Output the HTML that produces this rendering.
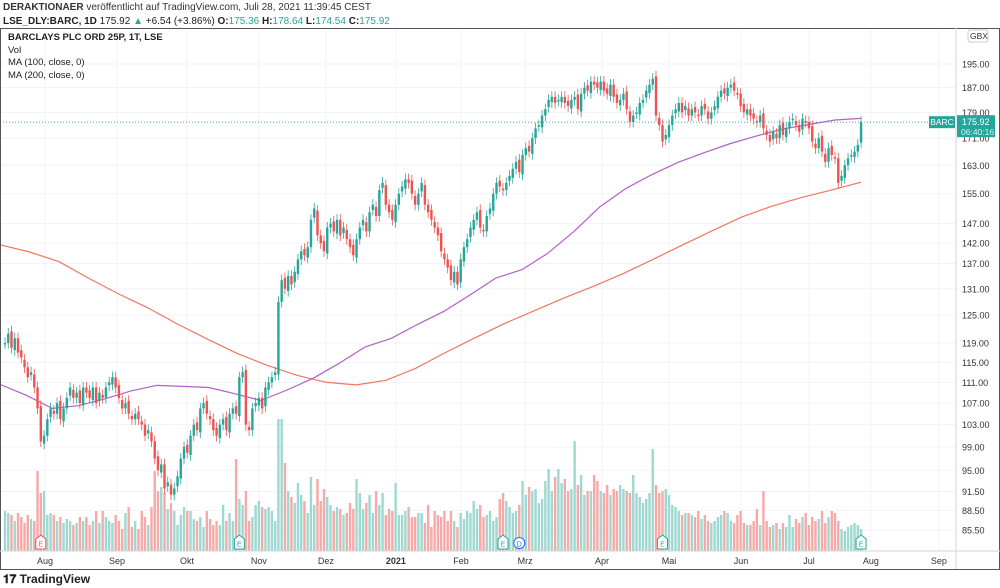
<!DOCTYPE html>
<html><head><meta charset="utf-8">
<style>
html,body{margin:0;padding:0;background:#fff;width:1000px;height:588px;overflow:hidden;font-family:"Liberation Sans",sans-serif;}
#hdr1{position:absolute;left:3px;top:2px;font-size:10px;color:#333;white-space:nowrap}
#hdr2{position:absolute;left:3px;top:16px;font-size:10px;color:#222;white-space:nowrap}
.g{color:#26a69a}
#legend{position:absolute;left:8px;top:32px;font-size:9.5px;color:#222;line-height:12.5px}
#logo{position:absolute;left:3px;top:572px;font-size:12px;color:#222;font-weight:bold}
</style></head><body>
<div id="hdr1"><b>DERAKTIONAER</b> veröffentlicht auf TradingView.com, Juli 28, 2021 11:39:45 CEST</div>
<div id="hdr2"><b>LSE_DLY:BARC, 1D</b> 175.92 <span class="g">▲</span> +6.54 (+3.86%) <b>O:</b><span class="g">175.36</span> <b>H:</b><span class="g">178.64</span> <b>L:</b><span class="g">174.54</span> <b>C:</b><span class="g">175.92</span></div>
<svg id="chart" width="1000" height="588" style="position:absolute;left:0;top:0">
</svg>
<div id="legend"><b>BARCLAYS PLC ORD 25P, 1T, LSE</b><br>Vol<br>MA (100, close, 0)<br>MA (200, close, 0)</div>
<div id="logo">𝟏𝟕 TradingView</div>
<script>
const closes=[119,121,118,120,117,116,114,112,113,110,
106,100,101,104,106,105,107,104,106,108,
110,108,109,107,110,109,108,110,107,109,
108,110,111,112,110,108,106,107,105,104,
105,104,103,101,102,100,97,95,96,92,
93,91,92,94,97,99,98,101,103,102,
106,107,105,104,102,101,103,104,102,105,
106,105,112,113,103,102,106,107,108,106,
110,111,112,113,128,133,131,134,132,135,
138,140,139,141,148,151,144,142,140,146,
147,145,148,144,146,143,141,139,143,146,
148,145,150,152,149,156,158,152,150,148,
152,155,157,159,158,155,152,155,158,152,
150,148,146,144,140,138,136,133,135,132,
138,141,143,146,148,150,146,145,149,151,
155,158,157,156,158,160,162,164,161,166,
168,167,171,174,175,178,180,183,184,182,
183,184,182,181,183,184,180,185,187,186,
189,188,187,189,186,185,188,184,182,183,
185,180,176,178,179,182,183,186,188,190,
178,175,170,172,175,178,180,182,179,181,
178,180,179,178,181,180,177,179,181,184,
186,185,187,188,186,185,181,179,180,178,
177,176,178,174,172,170,173,171,175,172,
174,176,177,175,173,177,176,174,170,168,
171,167,164,168,166,165,158,160,163,165,
166,167,169,176];
const volumes=[40,38,36,30,38,34,28,36,32,30,
80,58,60,36,38,36,30,34,28,32,
30,26,28,34,30,34,26,30,40,28,
40,34,30,28,36,30,22,38,44,24,
30,22,40,34,26,44,80,60,64,58,
42,48,40,26,36,44,40,40,32,30,
34,24,40,32,26,30,26,46,30,38,
30,92,52,46,60,30,34,46,50,44,
42,44,40,30,132,132,88,60,54,48,
68,56,50,38,74,46,72,50,62,54,
46,40,44,42,36,38,48,42,72,58,
42,48,56,38,60,46,58,36,42,40,
68,36,36,40,44,34,34,38,38,28,
46,24,40,36,34,40,30,40,30,24,
38,32,40,38,50,42,46,34,36,40,
30,34,52,58,50,44,38,40,46,70,
56,64,60,62,48,52,70,82,60,74,
82,68,72,60,62,110,66,76,56,60,
60,76,70,60,58,66,56,62,60,66,
62,60,58,76,58,54,48,52,58,102,
66,58,60,62,56,46,44,40,36,38,
38,36,34,40,32,36,30,28,30,34,
36,40,38,30,28,36,40,28,26,26,
30,42,26,60,30,24,26,28,22,28,
24,36,24,32,28,34,38,26,34,30,
32,40,28,34,40,38,30,22,20,24,
26,28,26,22];
const ma100=[110.6,108.5,106,106.5,107.8,109.3,110.4,110.2,110,108.8,107.5,109.5,111.8,114.8,118.2,120,123,125.8,129.5,133.5,135.5,139.5,145,151.5,156.5,160.4,163.9,166.7,169.4,171.7,173.8,175.2,176.6,177.1];
const ma200=[141.6,139.8,137.4,133.4,129.8,126.6,123,119.8,116.8,114.4,112.4,111,110.5,111.4,113.8,117,120.1,123.2,126,128.9,131.6,134.6,138,141.6,145.2,148.8,151.6,154,156,158.2];
const priceTicks=[195,187,179,171,163,155,147,142,137,131,125,119,115,111,107,103,99,95,91.5,88.5,85.5];
const monthLabels=["Aug","Sep","Okt","Nov","Dez","2021","Feb","Mrz","Apr","Mai","Jun","Jul","Aug","Sep"];
const monthBars=[12.3,34.4,55.9,78,98.6,120.1,140.1,159.8,183.4,204,226.1,247,266,286.9];

const svg=document.getElementById('chart');
const NS='http://www.w3.org/2000/svg';
const PL=0,PR=956,PT=28,PB=551;
const X0=5,STEP=3.255;
function xb(i){return X0+i*STEP;}
function yp(p){return 64+Math.log(195/p)*565;}
function yv(v){return PB-v;}
function mk(tag,attrs,parent){const e=document.createElementNS(NS,tag);for(const k in attrs)e.setAttribute(k,attrs[k]);(parent||svg).appendChild(e);return e;}

// grid
priceTicks.forEach(p=>{const l=mk('line',{x1:PL,x2:PR,y1:yp(p),y2:yp(p),stroke:'#f0f3fa','stroke-width':1});

});
monthBars.forEach(b=>{const l=mk('line',{x1:xb(b),x2:xb(b),y1:PT,y2:PB,stroke:'#f0f3fa','stroke-width':1});

});

// volume
volumes.forEach((v,i)=>{const o=i?closes[i-1]:closes[0];const up=closes[i]>=o;
const r=mk('rect',{x:xb(i)-1.2,y:yv(v),width:2.4,height:v,fill:up?'#9fd8d1':'#f7a9a7'});

});

// MA lines
function maPath(arr,color,name){const n=arr.length;let d='';arr.forEach((p,k)=>{const x=(PL)+k*(861-PL)/(n-1);d+=(k?'L':'M')+x.toFixed(1)+','+yp(p).toFixed(1);});
const e=mk('path',{d:d,fill:'none',stroke:color,'stroke-width':1.2,'stroke-linejoin':'round'});

}
maPath(ma200,'#f2765e','ma200-line');
maPath(ma100,'#b35fcb','ma100-line');

// candles
closes.forEach((c,i)=>{const o=i?closes[i-1]*(1+((i%3)-1)*0.004):c;const up=c>=o;const col=up?'#26a69a':'#ef5350';
const hi=Math.max(o,c)*1.01,lo=Math.min(o,c)*0.99;const x=xb(i);
const g=mk('g',{});


mk('line',{x1:x,x2:x,y1:yp(hi),y2:yp(lo),stroke:col,'stroke-width':0.8},g);
const t=Math.min(yp(o),yp(c));mk('rect',{x:x-1.2,y:t,width:2.4,height:Math.max(1.5,Math.abs(yp(o)-yp(c))),fill:col},g);});

// last price line
const lp=yp(175.92);
const pl=mk('line',{x1:0,x2:PR,y1:lp,y2:lp,stroke:'#26a69a','stroke-width':0.8,'stroke-dasharray':'1,2'});



// frame
const fr=mk('rect',{x:0.5,y:PT+0.5,width:999,height:541,fill:'none',stroke:'#555','stroke-width':1});


const ax1=mk('line',{x1:PR,x2:PR,y1:PT,y2:569,stroke:'#d6d6d6'});


const ax2=mk('line',{x1:0,x2:1000,y1:PB,y2:PB,stroke:'#d6d6d6'});



// price tick labels
priceTicks.forEach(p=>{const t=mk('text',{x:962,y:yp(p)+3.5,'font-size':9,fill:'#333','font-family':'Liberation Sans, sans-serif'});t.textContent=p.toFixed(2);

});
const gb=mk('g',{});


mk('rect',{x:968,y:30,width:20,height:12,rx:2,fill:'#fff',stroke:'#ccc'},gb);
const gbt=mk('text',{x:970,y:39,'font-size':8.5,fill:'#333'},gb);gbt.textContent='GBX';

// month labels
monthLabels.forEach((m,k)=>{const t=mk('text',{x:xb(monthBars[k]),y:564,'font-size':9,fill:'#333','text-anchor':'middle','font-weight':m==='2021'?'bold':'normal'});t.textContent=m;

});

// price labels
const b1=mk('g',{});


mk('rect',{x:929,y:lp-6,width:26,height:12,fill:'#26a69a'},b1);
const bt=mk('text',{x:942,y:lp+3,'font-size':8.5,fill:'#fff','text-anchor':'middle'},b1);bt.textContent='BARC';
const b2=mk('g',{});


mk('rect',{x:957,y:lp-7,width:38,height:22,fill:'#26a69a'},b2);
const t1=mk('text',{x:962,y:lp+3,'font-size':9,fill:'#fff'},b2);t1.textContent='175.92';
const t2=mk('text',{x:961,y:lp+13,'font-size':8.5,fill:'#d8f3ef'},b2);t2.textContent='06:40:16';

// event markers
const evBars=[11,72,153,158,202,263];const evText=['E','E','E','D','E','E'];const evCol=['#ef5350','#26a69a','#26a69a','#2962ff','#26a69a','#26a69a'];
evBars.forEach((b,k)=>{const g=mk('g',{});


const x=xb(b);
if(evText[k]==='D'){mk('circle',{cx:x,cy:543,r:5.5,fill:'#fff',stroke:evCol[k]},g);}
else{mk('path',{d:`M${x-5},539 L${x},535 L${x+5},539 L${x+5},549 L${x-5},549 Z`,fill:'#fff',stroke:evCol[k]},g);}
const t=mk('text',{x:x,y:546.5,'font-size':7,fill:evCol[k],'text-anchor':'middle'},g);t.textContent=evText[k];});
</script>
</body></html>
